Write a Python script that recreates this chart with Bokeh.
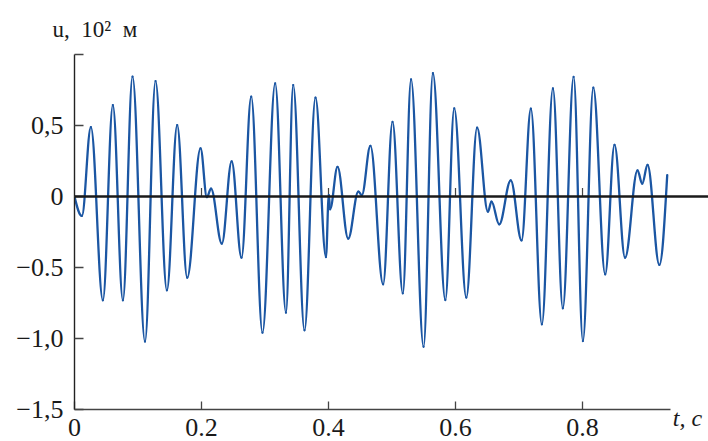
import numpy as np
from bokeh.plotting import figure
from bokeh.models import Range1d, FixedTicker, Span, Title
from bokeh.embed import file_html
from bokeh.resources import INLINE

# ---- data (extrema of the oscillation) ----
t_knots = [0.0000, 0.0116, 0.0258, 0.0447, 0.0604, 0.0762, 0.0914, 0.1110, 0.1276, 0.1455,
           0.1617, 0.1775, 0.1985, 0.2085, 0.2150, 0.2320, 0.2475, 0.2630, 0.2783, 0.2960,
           0.3160, 0.3330, 0.3444, 0.3622, 0.3795, 0.3960, 0.4005, 0.4025, 0.4142, 0.4310,
           0.4470, 0.4525, 0.4660, 0.4860, 0.5008, 0.5170, 0.5300, 0.5497, 0.5644, 0.5840,
           0.5980, 0.6170, 0.6340, 0.6510, 0.6567, 0.6688, 0.6870, 0.7040, 0.7187, 0.7360,
           0.7534, 0.7690, 0.7860, 0.8006, 0.8170, 0.8357, 0.8504, 0.8670, 0.8866, 0.8940,
           0.9024, 0.9210, 0.9334]
u_knots = [0.000, -0.137, 0.489, -0.731, 0.644, -0.731, 0.844, -1.022, 0.813, -0.661,
           0.503, -0.572, 0.339, -0.005, 0.055, -0.332, 0.248, -0.431, 0.703, -0.959,
           0.797, -0.818, 0.785, -0.942, 0.696, -0.426, 0.010, -0.090, 0.208, -0.297,
           0.035, 0.010, 0.356, -0.618, 0.525, -0.682, 0.825, -1.058, 0.868, -0.729,
           0.621, -0.712, 0.485, -0.107, -0.036, -0.196, 0.114, -0.309, 0.618, -0.900,
           0.762, -0.787, 0.842, -1.018, 0.766, -0.548, 0.363, -0.431, 0.184, 0.090,
           0.222, -0.482, 0.151]

x_ticks = [0.0, 0.2, 0.4, 0.6, 0.8]
x_tick_labels = ["0", "0.2", "0.4", "0.6", "0.8"]
y_ticks = [-1.5, -1.0, -0.5, 0.0, 0.5, 1.0]
y_tick_labels = ["\u22121,5", "\u22121,0", "\u22120.5", "0", "0,5", ""]
x_title = "t, c"
y_title = "u,\u00a0 10\u00b2\u00a0 \u043c"

FONT = "Liberation Serif"
BLUE = "#1b56a3"
INK = "#1a1a1a"

# ---- smooth curve through the extrema: Bezier segments (horizontal tangent at extrema) ----
t = np.array(t_knots)
u = np.array(u_knots)
n = len(t)
slopes = np.zeros(n)
for i in range(1, n - 1):
    d0 = (u[i] - u[i - 1]) / (t[i] - t[i - 1])
    d1 = (u[i + 1] - u[i]) / (t[i + 1] - t[i])
    slopes[i] = 0.0 if d0 * d1 <= 0 else 2.0 / (1.0 / d0 + 1.0 / d1)
slopes[0] = 1.57 * (u[1] - u[0]) / (t[1] - t[0])
slopes[-1] = 1.5 * (u[-1] - u[-2]) / (t[-1] - t[-2])
k = 0.364
h = t[1:] - t[:-1]
cx0 = t[:-1] + k * h
cy0 = u[:-1] + slopes[:-1] * k * h
cx1 = t[1:] - k * h
cy1 = u[1:] - slopes[1:] * k * h

W, H = 708, 441
p = figure(width=W, height=H, x_range=Range1d(0, 0.9984), y_range=Range1d(-1.5, 1.0),
           output_backend="svg", toolbar_location=None, title=None,
           min_border_left=74, min_border_right=0, min_border_top=54, min_border_bottom=32)
p.outline_line_color = None
p.xgrid.visible = False
p.ygrid.visible = False
p.background_fill_color = "white"
p.border_fill_color = "white"

# title "u, 10² м" above the y axis
p.add_layout(Title(text=y_title, align="left", offset=-22, standoff=22, vertical_align="top",
                   text_font=FONT, text_font_size="23px", text_font_style="normal",
                   text_color=INK), "above")

# zero line
p.add_layout(Span(location=0, dimension="width", line_color=INK, line_width=2.6))

# small ticks on the zero line
xt_inner = x_ticks[1:]
p.segment(x0=xt_inner, y0=[0] * len(xt_inner), x1=xt_inner, y1=[0.06] * len(xt_inner),
          line_color="#444444", line_width=1.2)

p.bezier(x0=t[:-1], y0=u[:-1], x1=t[1:], y1=u[1:], cx0=cx0, cy0=cy0, cx1=cx1, cy1=cy1,
         line_color=BLUE, line_width=2.3, line_cap="round")

# y axis
ya = p.yaxis[0]
ya.ticker = FixedTicker(ticks=y_ticks)
ya.major_label_overrides = {v: s for v, s in zip(y_ticks, y_tick_labels)}
ya.bounds = (-1.5, 1.0)
ya.major_tick_in = 9
ya.major_tick_out = 0
ya.minor_tick_in = 0
ya.minor_tick_out = 0
ya.major_label_standoff = 11
ya.axis_line_color = "#222222"
ya.axis_line_width = 1.4
ya.major_tick_line_color = "#444444"
ya.major_tick_line_width = 1.3
ya.major_label_text_font = FONT
ya.major_label_text_font_size = "26px"
ya.major_label_text_color = INK

# x axis
xa = p.xaxis[0]
xa.ticker = FixedTicker(ticks=x_ticks)
xa.major_label_overrides = {v: s for v, s in zip(x_ticks, x_tick_labels)}
xa.bounds = (0, 0.938)
xa.major_tick_in = 8
xa.major_tick_out = 0
xa.minor_tick_in = 0
xa.minor_tick_out = 0
xa.major_label_text_font = FONT
xa.major_label_text_font_size = "26px"
xa.major_label_text_color = INK
xa.major_label_standoff = 9
xa.axis_line_color = "#444444"
xa.axis_line_width = 1.4
xa.major_tick_line_color = "#444444"
xa.major_tick_line_width = 1.3
# axis title "t, c" sits at the right end of the tick-label row
# (the label is centred on the frame's right edge; trailing no-break spaces shift the
#  visible glyphs left so they stay inside the picture)
xa.axis_label = x_title + "\u00a0" * 7
xa.axis_label_text_font = FONT
xa.axis_label_text_font_size = "24px"
xa.axis_label_text_font_style = "italic"
xa.axis_label_text_color = INK
xa.axis_label_standoff = -34
for a in ("end", "right"):
    try:
        xa.axis_label_align = a
        break
    except Exception:
        pass

open("out.html", "w").write(file_html(p, INLINE))
